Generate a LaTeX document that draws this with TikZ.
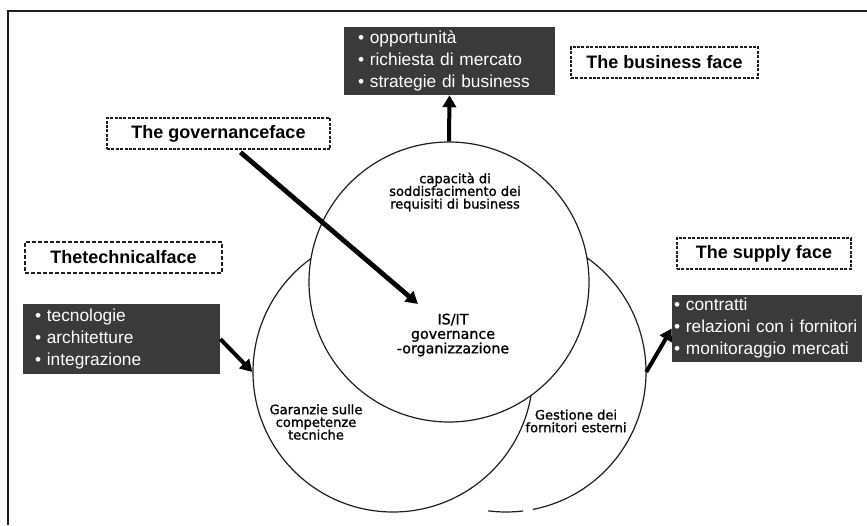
\documentclass[tikz,border=0pt]{standalone}
\usepackage{fontspec}
\setmainfont{Liberation Sans}
\newfontfamily\circfont[FakeBold=1.2]{DejaVu Sans}
\usetikzlibrary{arrows.meta}
\definecolor{boxgray}{RGB}{58,58,58}
\definecolor{inkline}{RGB}{30,30,30}

\begin{document}
\begin{tikzpicture}[x=0.75pt,y=0.75pt,
  facebox/.style={draw=inkline, line width=1.1pt, dash pattern=on 2.2pt off 1.1pt,
    inner sep=0pt, minimum height=23.25pt,
    font=\fontsize{13.5}{16}\selectfont\bfseries},
  listbox/.style={fill=boxgray, text=white, inner ysep=0pt, align=left,
    font=\fontsize{13}{16.5}\selectfont},
  ring/.style={circle, minimum size=210pt, inner sep=0pt, fill=white},
  ringline/.style={draw=inkline, line width=0.9pt},
  circtext/.style={align=center, inner sep=0pt, text=black,
    font=\circfont\fontsize{9.8}{9.5}\selectfont},
  arr/.style={line width=3pt, draw=black, -{Triangle[length=9pt,width=10pt]}}
]
\useasboundingbox (0,0) rectangle (867,-525);

% frame
\draw[line width=1.5pt, inkline] (867,-11) -- (8,-11) -- (8,-525);

% three overlapping faces: right, left, then top on top
\node[ring] (rightc) at (506,-372) {};
\draw[ringline] (rightc.center) ++(262.7:105pt) arc[start angle=262.7, end angle=277, radius=105pt];
\draw[ringline] (rightc.center) ++(281:105pt) arc[start angle=281, end angle=606, radius=105pt];
\node[ring, ringline] (leftc) at (393,-372) {};
\node[ring, ringline] (topc) at (449,-282) {};

% labels inside the circles
\node[circtext] (capac) at (455,-192) {capacità di\\soddisfacimento dei\\requisiti di business};
\node[circtext, font=\circfont\fontsize{10.7}{10.9}\selectfont] (core) at (453,-335) {IS/IT\\governance\\-organizzazione};
\node[circtext] (garanz) at (316,-422) {Garanzie sulle\\competenze\\tecniche};
\node[circtext] (gestio) at (576,-421) {Gestione dei\\fornitori esterni};

% dashed face titles
\node[facebox, minimum width=140.25pt] (bizface) at (664.5,-62.5) {The business face};
\node[facebox, minimum width=167.25pt] (govface) at (218.5,-133.5) {The governanceface};
\node[facebox, minimum width=147.75pt, line width=2pt, dash pattern=on 3pt off 1.5pt] (techface) at (123.5,-257.5) {Thetechnicalface};
\node[facebox, minimum width=130.5pt] (supface) at (764,-253.5) {The supply face};

% dark bullet lists
\node[listbox, minimum width=158.25pt, minimum height=51pt, inner xsep=10.5pt, text width=137.25pt] (bizlist) at (449.5,-61)
  {• opportunità\\• richiesta di mercato\\• strategie di business};
\node[listbox, minimum width=147.75pt, minimum height=52.5pt, inner xsep=9pt, text width=129.75pt] (techlist) at (121.5,-339)
  {• tecnologie\\• architetture\\• integrazione};
\node[listbox, minimum width=142.5pt, minimum height=50.25pt, inner xsep=1.5pt, text width=139.5pt] (suplist) at (767,-328.5)
  {• contratti\\• relazioni con i fornitori\\• monitoraggio mercati};

% arrows
\coordinate (govtip) at (418,-304);
\draw[arr] (topc.north) -- (bizlist.south);
\draw[arr, line width=3.6pt, shorten <=3pt] (govface) -- (govtip);
\draw[arr] (techlist.east) -- (leftc.west);
\draw[arr] (rightc.east) -- (suplist.west);
\end{tikzpicture}
\end{document}
